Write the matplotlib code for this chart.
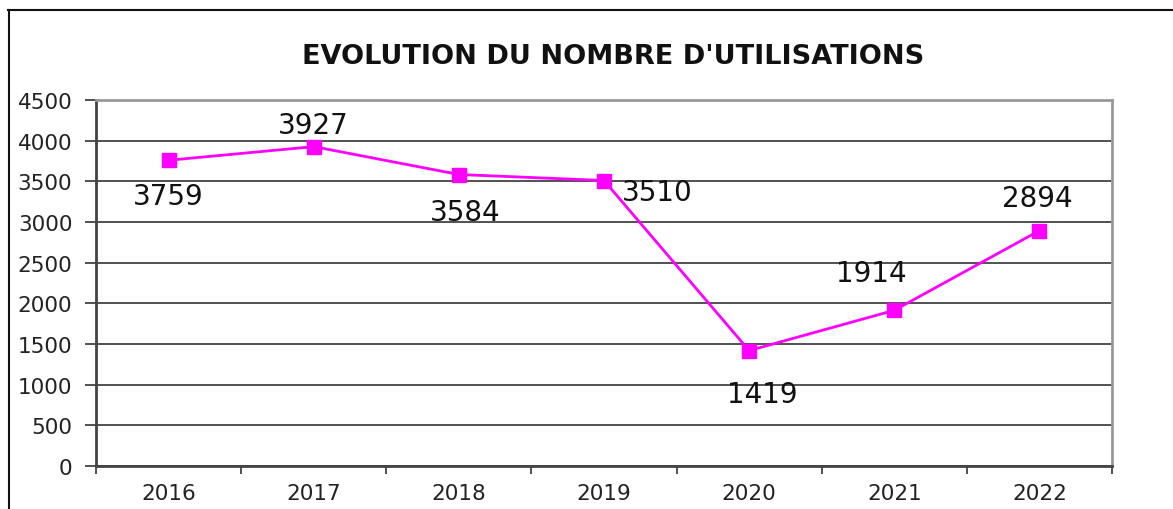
#!/usr/bin/env python3
"""Evolution du nombre d'utilisations - line chart"""

import matplotlib.pyplot as plt
from matplotlib.lines import Line2D
from matplotlib.ticker import FixedLocator

years = ['2016', '2017', '2018', '2019', '2020', '2021', '2022']
uses = [3759, 3927, 3584, 3510, 1419, 1914, 2894]
y_ticks = [0, 500, 1000, 1500, 2000, 2500, 3000, 3500, 4000, 4500]

# label offsets in pixels (dx, dy), as placed in the original chart
label_offsets = [(0, -36), (0, 22), (6, -37), (53, -11), (13, -43), (-23, 37), (-2, 33)]

W, H, DPI = 1173, 510, 100
fig = plt.figure(figsize=(W / DPI, H / DPI), dpi=DPI)

ax = fig.add_axes([96 / W, 1 - 467 / H, (1112 - 96) / W, (467 - 101) / H])

x = list(range(len(years)))
ax.plot(x, uses, color='#FF00FF', linewidth=2, marker='s', markersize=10,
        markerfacecolor='#FF00FF', markeredgecolor='#FF00FF', zorder=3)

for i, v in enumerate(uses):
    dx, dy = label_offsets[i]
    ax.annotate(str(v), (i, v), xytext=(dx * 72 / DPI, dy * 72 / DPI),
                textcoords='offset points', ha='center', va='center',
                fontsize=20, color='#111111')

ax.set_xlim(-0.5, len(years) - 0.5)
ax.set_ylim(0, 4500)
ax.set_yticks(y_ticks)
ax.set_yticklabels([str(t) for t in y_ticks])
ax.set_xticks(x)
ax.set_xticklabels(years)
ax.xaxis.set_minor_locator(FixedLocator([i - 0.5 for i in range(len(years) + 1)]))

ax.tick_params(axis='y', length=8, width=1.2, color='#333333', pad=9,
               labelsize=15.5, labelcolor='#222222')
ax.tick_params(axis='x', which='major', length=0, pad=12,
               labelsize=15.5, labelcolor='#222222')
ax.tick_params(axis='x', which='minor', length=6, width=1.2, color='#333333')

ax.yaxis.grid(True, color='#222222', linewidth=1.1)
ax.set_axisbelow(True)

for side in ['left', 'bottom']:
    ax.spines[side].set_color('#444444')
    ax.spines[side].set_linewidth(2)
for side in ['top', 'right']:
    ax.spines[side].set_color('#999999')
    ax.spines[side].set_linewidth(2)

fig.text(613 / W, 1 - 57 / H, "EVOLUTION DU NOMBRE D'UTILISATIONS",
         ha='center', va='center', fontsize=19.5, fontweight='bold', color='#111111')

# outer chart border (only left and top visible in the crop)
fig.add_artist(Line2D([8.5 / W, 8.5 / W], [0, 1 - 10.5 / H], color='#111111',
                      linewidth=1.5, transform=fig.transFigure))
fig.add_artist(Line2D([8 / W, 1], [1 - 10.5 / H, 1 - 10.5 / H], color='#111111',
                      linewidth=1.5, transform=fig.transFigure))

fig.savefig('out.png', dpi=DPI)
